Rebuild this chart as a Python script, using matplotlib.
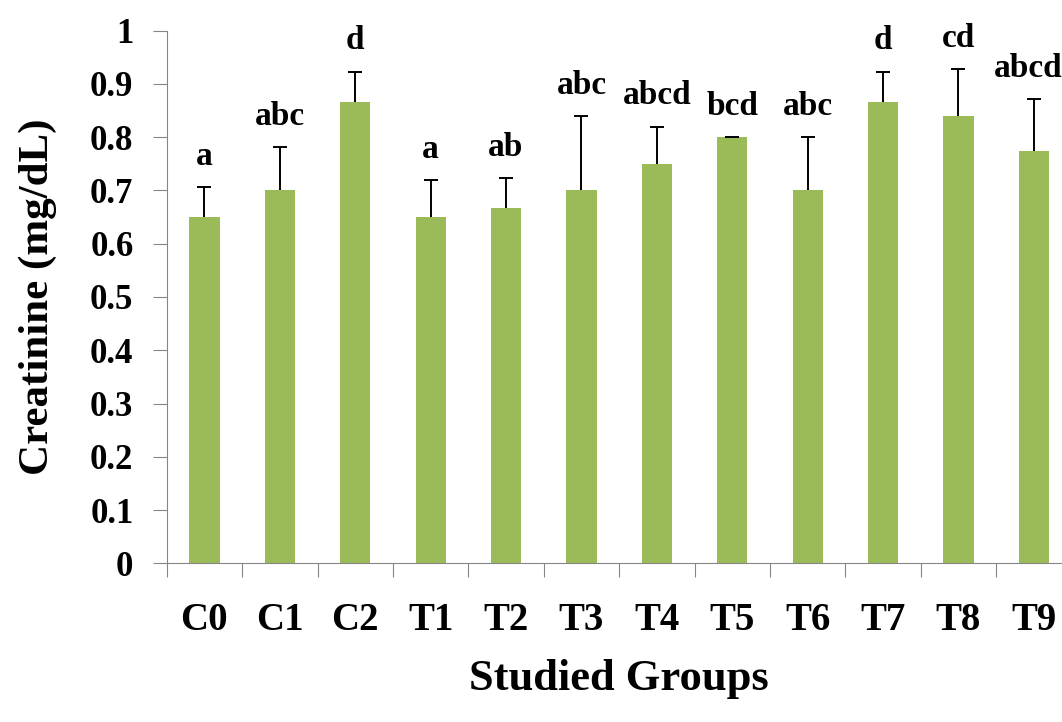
import matplotlib
matplotlib.use("Agg")
import matplotlib.pyplot as plt
import numpy as np

# data
groups = ["C0", "C1", "C2", "T1", "T2", "T3", "T4", "T5", "T6", "T7", "T8", "T9"]
means = [0.65, 0.70, 0.866, 0.65, 0.667, 0.70, 0.75, 0.80, 0.70, 0.866, 0.839, 0.775]
errs = [0.056, 0.081, 0.057, 0.07, 0.056, 0.14, 0.07, 0.0, 0.10, 0.057, 0.089, 0.096]
letters = ["a", "abc", "d", "a", "ab", "abc", "abcd", "bcd", "abc", "d", "cd", "abcd"]

plt.rcParams["font.family"] = ["Liberation Serif", "DejaVu Serif"]
plt.rcParams["font.weight"] = "bold"

fig = plt.figure(figsize=(10.62, 7.22), dpi=100)
ax = fig.add_axes([0.157, 0.2198, 0.852, 0.7377])

x = np.arange(len(groups))
tops = np.array(means) + np.array(errs)
ax.bar(x, means, width=0.4, color="#9BBB59", zorder=2)
# upper error bars only, with a cap on top
ax.vlines(x, means, tops, color="black", lw=1.4, zorder=3)
ax.plot(x, tops, ls="none", marker="_", ms=10, mew=1.4, color="black", zorder=3)

# significance letters above the error bars (last one nudged in from the edge)
for i, (xi, t, lab) in enumerate(zip(x, tops, letters)):
    dx = -4 if i == len(groups) - 1 else 0
    ax.annotate(lab, (xi, t), xytext=(dx, 11), textcoords="offset points",
                ha="center", va="bottom", fontsize=24, fontweight="bold",
                annotation_clip=False)

ax.set_xlim(-0.5, len(groups) - 0.5)
ax.set_ylim(0, 1)
ax.set_yticks(np.arange(0, 1.01, 0.1))
ax.set_yticklabels(["0"] + ["%.1f" % v for v in np.arange(0.1, 0.95, 0.1)] + ["1"])

# category ticks sit on boundaries, labels in the middle
ax.set_xticks(np.arange(-0.5, len(groups), 1.0))
ax.set_xticklabels([])
ax.set_xticks(x, minor=True)
ax.set_xticklabels(groups, minor=True, fontsize=28, fontweight="bold")
ax.tick_params(axis="x", which="minor", length=0, pad=28)
ax.tick_params(axis="x", which="major", length=10, color="#868686", direction="out")
ax.tick_params(axis="y", length=10, color="#868686", labelsize=25, pad=14)
for lbl in ax.get_yticklabels():
    lbl.set_fontweight("bold")

for s in ["top", "right"]:
    ax.spines[s].set_visible(False)
ax.spines["left"].set_color("#868686")
ax.spines["bottom"].set_color("#868686")

ax.set_xlabel("Studied Groups", fontsize=32, fontweight="bold", labelpad=14)
ax.set_ylabel("Creatinine (mg/dL)", fontsize=31, fontweight="bold", labelpad=24)

fig.savefig("out.png", dpi=100)
